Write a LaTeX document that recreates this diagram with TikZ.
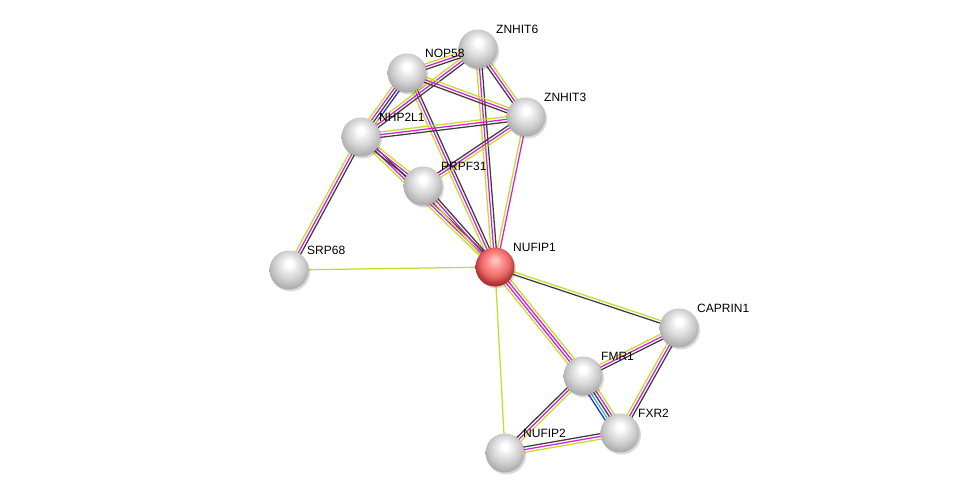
\documentclass[tikz,border=0pt]{standalone}
\usepackage{fontspec}
\setmainfont{Liberation Sans}
\usetikzlibrary{
    calc,
    backgrounds,
    shadows
}
\pgfdeclareradialshading{protein ball}{\pgfpoint{0bp}{9bp}}{%
    color(0bp)=(white); color(4bp)=(white); color(10bp)=(black!8);
    color(18bp)=(black!18); color(26bp)=(black!30); color(34bp)=(black!42); color(50bp)=(black!42)}
\pgfdeclareradialshading{query ball}{\pgfpoint{0bp}{9bp}}{%
    color(0bp)=(red!22!white); color(4bp)=(red!28!white); color(10bp)=(red!45!white);
    color(18bp)=(red!55!white!92!black); color(26bp)=(red!62!black!80!white); color(34bp)=(red!70!black); color(50bp)=(red!70!black)}
\tikzset{
    % Evidence colours
    coexp/.style={draw={rgb,255:red,60;green,60;blue,60}},
    exper/.style={draw={rgb,255:red,215;green,30;blue,215}},
    textm/.style={draw={rgb,255:red,195;green,220;blue,40}},
    cooc/.style={draw={rgb,255:red,40;green,40;blue,220}},
    dbase/.style={draw={rgb,255:red,60;green,180;blue,220}},
    %
    % Lines
    edge line/.style={line width=1.25pt},
    %
    % Proteins
    protein/.style={circle,inner sep=0pt,outer sep=0pt,minimum size=39pt,
        shade,shading=protein ball,
        general shadow={fill=black,opacity=.15,shadow xshift=1.5pt,shadow yshift=-2pt}},
    query/.style={protein,shading=query ball},
    plabel/.style={anchor=base west,inner sep=0pt,font=\fontsize{12}{14}\selectfont,
        xshift=18pt,yshift=16pt}
}
% bundle of parallel lines between two proteins
\newcommand{\link}[3]{%
    \foreach \c [count=\i] in {#3} {\global\let\nlines\i}
    \foreach \c [count=\i] in {#3} {
        \pgfmathsetmacro\off{(\i-(\nlines+1)/2)*2.7}
        \draw[edge line,\c] ($(#1.center)!\off pt!90:(#2.center)$) -- ($(#2.center)!\off pt!-90:(#1.center)$);
    }}

\begin{document}
\begin{tikzpicture}[x=1pt,y=-1pt]
    \useasboundingbox (0,0) rectangle (975,498);

    \node[query]   (nufip1)  at (495,267) {};
    \node[protein] (znhit6)  at (478,49)  {};
    \node[protein] (nop58)   at (407,73)  {};
    \node[protein] (znhit3)  at (526,117) {};
    \node[protein] (nhp2l1)  at (361,137) {};
    \node[protein] (prpf31)  at (423,186) {};
    \node[protein] (srp68)   at (289,270) {};
    \node[protein] (caprin1) at (679,328) {};
    \node[protein] (fmr1)    at (583,376) {};
    \node[protein] (fxr2)    at (620,433) {};
    \node[protein] (nufip2)  at (505,453) {};

    \node[plabel] (nufip1 t)  at (nufip1.center)  {NUFIP1};
    \node[plabel] (znhit6 t)  at (znhit6.center)  {ZNHIT6};
    \node[plabel] (nop58 t)   at (nop58.center)   {NOP58};
    \node[plabel] (znhit3 t)  at (znhit3.center)  {ZNHIT3};
    \node[plabel] (nhp2l1 t)  at (nhp2l1.center)  {NHP2L1};
    \node[plabel] (prpf31 t)  at (prpf31.center)  {PRPF31};
    \node[plabel] (srp68 t)   at (srp68.center)   {SRP68};
    \node[plabel] (caprin1 t) at (caprin1.center) {CAPRIN1};
    \node[plabel] (fmr1 t)    at (fmr1.center)    {FMR1};
    \node[plabel] (fxr2 t)    at (fxr2.center)    {FXR2};
    \node[plabel] (nufip2 t)  at (nufip2.center)  {NUFIP2};

    \begin{pgfonlayer}{background}
        \fill[white] (0,0) rectangle (975,498);
        % query protein
        \link{nufip1}{znhit6}{coexp,exper,textm}
        \link{nufip1}{znhit3}{exper,textm}
        \link{nufip1}{nop58}{coexp,exper,textm}
        \link{nufip1}{nhp2l1}{coexp,exper,textm}
        \link{nufip1}{prpf31}{coexp,exper,textm}
        \link{nufip1}{srp68}{textm}
        \link{nufip1}{caprin1}{coexp,textm}
        \link{nufip1}{fmr1}{textm,exper,exper,textm}
        \link{nufip1}{nufip2}{textm}
        % upper group
        \link{srp68}{nhp2l1}{coexp,exper,textm}
        \link{nhp2l1}{nop58}{cooc,coexp,exper,textm}
        \link{nhp2l1}{znhit6}{coexp,exper,textm}
        \link{nhp2l1}{znhit3}{coexp,exper,textm}
        \link{nhp2l1}{prpf31}{coexp,exper,textm}
        \link{nop58}{znhit6}{coexp,exper,textm}
        \link{nop58}{znhit3}{coexp,exper,textm}
        \link{znhit6}{znhit3}{coexp,exper,textm}
        \link{znhit3}{prpf31}{coexp,exper,textm}
        % lower group
        \link{fmr1}{caprin1}{coexp,exper,textm}
        \link{fmr1}{fxr2}{cooc,dbase,coexp,exper,textm}
        \link{fmr1}{nufip2}{coexp,exper,textm}
        \link{fxr2}{caprin1}{coexp,exper,textm}
        \link{fxr2}{nufip2}{coexp,exper,textm}
    \end{pgfonlayer}
\end{tikzpicture}
\end{document}
